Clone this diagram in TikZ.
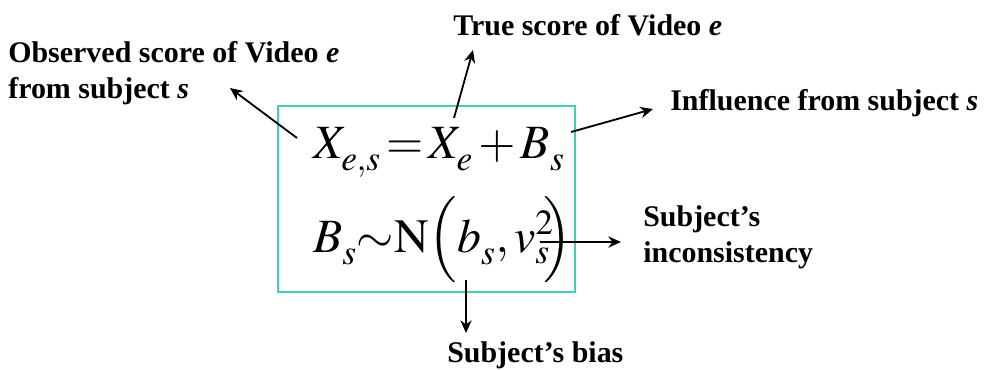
\documentclass[tikz,border=0pt]{standalone}
\usepackage{mathptmx}
\usepackage[no-math]{fontspec}
\setmainfont{Liberation Serif}
\usetikzlibrary{arrows.meta}
\definecolor{boxteal}{RGB}{64,208,180}
% subscripts set a little lower, as in the figure
\newcommand{\dsub}[1]{_{\raisebox{-0.12em}{$\scriptstyle #1$}}}
\tikzset{
  lbl/.style={inner sep=0pt, anchor=base west, align=left, font=\bfseries\fontsize{21.3}{25.5}\selectfont},
  eqn/.style={inner sep=0pt, anchor=base west, font=\fontsize{34}{40}\selectfont},
  pointer/.style={line width=1.3pt, -{Stealth[length=9pt,width=8pt]}}
}
\begin{document}
\begin{tikzpicture}[x=0.025cm, y=-0.025cm]
\useasboundingbox (0,0) rectangle (990,369);
% frame round the model
\draw[boxteal, line width=1.3pt] (278,106) rectangle (575,292);
\node[eqn] (eqa) at (313,158) {$X\dsub{e,s}\,{=}\,X\dsub{e}\,{+}\,B\dsub{s}$};
\node[eqn] (eqb) at (313,252) {$B\dsub{s}{\sim}\mathrm{N}\Bigl(b\dsub{s}{,}\,v_s^2\!\!\Bigr)$};
% labels
\node[lbl] (obs) at (8,98) {Observed score of Video \textit{e}\\from subject \textit{s}};
\node[lbl] (truesc) at (453,35) {True score of Video \textit{e}};
\node[lbl] (infl) at (670,110) {Influence from subject \textit{s}};
\node[lbl] (incons) at (643,262) {Subject's\\inconsistency};
\node[lbl] (bias) at (447,362) {Subject's bias};
% arrow ends
\coordinate (obs-from) at (297,138);  \coordinate (obs-to) at (230,88);
\coordinate (tru-from) at (454,118);  \coordinate (tru-to) at (473,50);
\coordinate (inf-from) at (571,132);  \coordinate (inf-to) at (653,109);
\coordinate (inc-from) at (540,242);  \coordinate (inc-to) at (621,242);
\coordinate (bia-from) at (466,280);  \coordinate (bia-to) at (466,333);
\draw[pointer] (obs-from) -- (obs-to);
\draw[pointer] (tru-from) -- (tru-to);
\draw[pointer] (inf-from) -- (inf-to);
\draw[pointer] (inc-from) -- (inc-to);
\draw[pointer] (bia-from) -- (bia-to);
\end{tikzpicture}
\end{document}
